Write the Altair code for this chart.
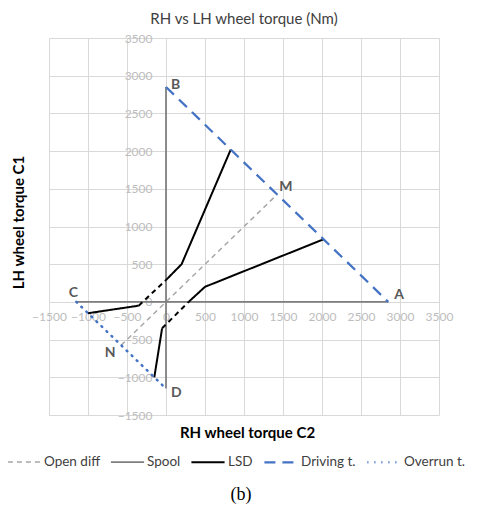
import altair as alt
import pandas as pd

# ---------------- data ----------------
series_order = ["Open diff", "Spool", "LSD", "Driving t.", "Overrun t."]

open_x = [-575, 1425]
open_y = [-575, 1425]

spool_h_x = [-1150, 2850]
spool_h_y = [0, 0]
spool_v_x = [0, 0]
spool_v_y = [-1150, 2850]

lsd_up1_x = [-1000, -350]
lsd_up1_y = [-150, -50]
lsd_up2_x = [0, 200, 830]
lsd_up2_y = [290, 500, 2020]
lsd_lo1_x = [-150, -50]
lsd_lo1_y = [-1000, -350]
lsd_lo2_x = [290, 500, 2020]
lsd_lo2_y = [0, 200, 830]

lsd_dash_up_x = [-350, 0]
lsd_dash_up_y = [-50, 290]
lsd_dash_lo_x = [-50, 290]
lsd_dash_lo_y = [-350, 0]

drive_x = [0, 2850]
drive_y = [2850, 0]
over_x = [-1150, 0]
over_y = [0, -1150]

pt_names = ["A", "B", "C", "D", "M", "N"]
pt_x = [2850, 0, -1150, 0, 1425, -575]
pt_y = [0, 2850, 0, -1150, 1425, -575]

axis_ticks = [-1500, -1000, -500, 0, 500, 1000, 1500, 2000, 2500, 3000, 3500]
caption = ["(b)"]

# ---------------- build tables ----------------
rows = []
def add(series, seg, xs, ys, target):
    for i, (a, b) in enumerate(zip(xs, ys)):
        target.append(dict(series=series, seg=seg, ord=i, x=a, y=b))

add("Open diff", "o", open_x, open_y, rows)
add("Spool", "h", spool_h_x, spool_h_y, rows)
add("Spool", "v", spool_v_x, spool_v_y, rows)
add("LSD", "u1", lsd_up1_x, lsd_up1_y, rows)
add("LSD", "u2", lsd_up2_x, lsd_up2_y, rows)
add("LSD", "l1", lsd_lo1_x, lsd_lo1_y, rows)
add("LSD", "l2", lsd_lo2_x, lsd_lo2_y, rows)
add("Driving t.", "d", drive_x, drive_y, rows)
add("Overrun t.", "r", over_x, over_y, rows)
lines_df = pd.DataFrame(rows)

drows = []
add("LSD", "du", lsd_dash_up_x, lsd_dash_up_y, drows)
add("LSD", "dl", lsd_dash_lo_x, lsd_dash_lo_y, drows)
dash_df = pd.DataFrame(drows)

pts_df = pd.DataFrame({"name": pt_names, "x": pt_x, "y": pt_y})
cap_df = pd.DataFrame({"t": caption})

W, H = 390, 377
FONT = "Lato"

xscale = alt.Scale(domain=[-1500, 3500], nice=False, zero=False)
yscale = alt.Scale(domain=[-1500, 3500], nice=False, zero=False)

xaxis = alt.Axis(values=axis_ticks, format="d", offset=-0.3 * H, grid=True, domain=False, ticks=False,
                 labelPadding=10, labelFlush=False, labelOverlap=False,
                 title="RH wheel torque C2", titleX=W / 2 + 3, titleY=131,
                 titleBaseline="middle", titleAlign="center")
yaxis = alt.Axis(values=axis_ticks, format="d", offset=-0.3 * W, grid=True, domain=False, ticks=False,
                 labelPadding=14, labelFlush=False, labelOverlap=False,
                 title="LH wheel torque C1", titleX=-148, titleY=184,
                 titleBaseline="middle", titleAlign="center", titleAngle=270)

X = alt.X("x:Q", scale=xscale, axis=xaxis)
Y = alt.Y("y:Q", scale=yscale, axis=yaxis)

color_range = ["#a6a6a6", "#7f7f7f", "#000000", "#4472c4", "#4472c4"]
dash_range = [[5, 4], [1, 0], [1, 0], [11, 7], [1, 6]]
width_range = [1.5, 2.5, 2, 3, 3]

legend = alt.Legend(title=None, orient="none", legendX=-42, legendY=406, direction="horizontal",
                    symbolType="stroke", symbolSize=1100, labelFont=FONT, labelFontSize=13.5,
                    labelColor="#404040", columnPadding=6, labelOffset=2, padding=0)

enc = dict(
    x=X,
    y=Y,
    color=alt.Color("series:N", scale=alt.Scale(domain=series_order, range=color_range), legend=legend),
    strokeDash=alt.StrokeDash("series:N", scale=alt.Scale(domain=series_order, range=dash_range), legend=legend),
    strokeWidth=alt.StrokeWidth("series:N", scale=alt.Scale(domain=series_order, range=width_range), legend=legend),
    detail="seg:N",
    order="ord:Q",
)

base = alt.Chart(lines_df)
main = base.mark_line(strokeCap="butt").encode(**enc).transform_filter(
    alt.datum.series != "Overrun t.")
over = base.mark_line(strokeCap="round").encode(**enc).transform_filter(
    alt.datum.series == "Overrun t.")

dashed = alt.Chart(dash_df).mark_line(color="black", strokeWidth=2, strokeDash=[5, 4]).encode(
    x=X, y=Y, detail="seg:N", order="ord:Q",
)

label_style = {
    "A": dict(dx=6, dy=-7, align="left"),
    "B": dict(dx=5, dy=-2, align="left"),
    "C": dict(dx=-3, dy=-9, align="center"),
    "D": dict(dx=5, dy=4, align="left"),
    "M": dict(dx=2, dy=-7, align="left"),
    "N": dict(dx=-11, dy=8, align="center"),
}
labels = []
for nm in pt_names:
    st = label_style[nm]
    labels.append(
        alt.Chart(pts_df).transform_filter(alt.datum.name == nm).mark_text(
            font=FONT, fontSize=14, fontWeight="bold", color="#595959",
            baseline="middle", **st
        ).encode(x=X, y=Y, text="name:N")
    )

cap = alt.Chart(cap_df).mark_text(font="Liberation Serif", fontSize=18, color="black",
                                  align="center", baseline="middle").encode(
    x=alt.value(192), y=alt.value(457), text="t:N")

chart = alt.layer(main, over, dashed, *labels, cap).properties(
    width=W, height=H,
    title=alt.TitleParams("RH vs LH wheel torque (Nm)", font=FONT, fontSize=15,
                          fontWeight="normal", color="#404040", anchor="middle", offset=5),
    autosize=alt.AutoSizeParams(type="none"),
    padding={"left": 41, "top": 30, "right": 30, "bottom": 90},
).configure_axis(
    gridColor="#d9d9d9", gridWidth=1, labelColor="#bdbdbd", labelFont=FONT, labelFontSize=12,
    titleFont=FONT, titleFontSize=15, titleFontWeight="bold", titleColor="#000000",
).configure_view(stroke=None)

chart.save("out.html", embed_options={"renderer": "svg", "actions": False})
